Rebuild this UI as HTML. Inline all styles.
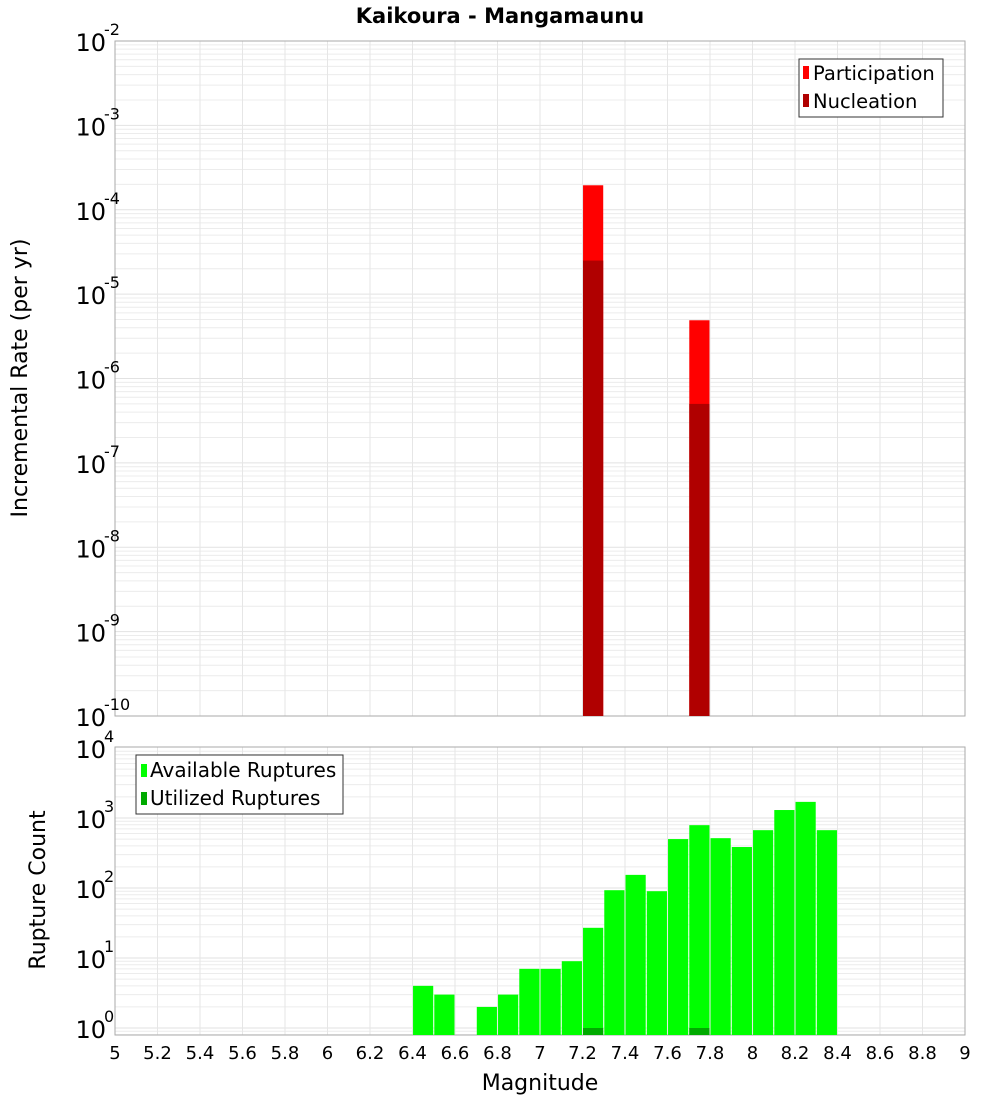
<!DOCTYPE html>
<html><head><meta charset="utf-8"><style>
body{margin:0;background:#fff;font-family:"DejaVu Sans","Liberation Sans",sans-serif;}
svg text{font-family:"DejaVu Sans","Liberation Sans",sans-serif;}
</style></head><body>
<svg id="chart" width="1000" height="1100" xmlns="http://www.w3.org/2000/svg">
<text x="500" y="23" text-anchor="middle" font-size="21" font-weight="bold">Kaikoura - Mangamaunu</text>
<g id="topg"></g><g id="botg"></g>
<text transform="translate(27,378) rotate(-90)" text-anchor="middle" font-size="22">Incremental Rate (per yr)</text>
<text transform="translate(45,890) rotate(-90)" text-anchor="middle" font-size="22">Rupture Count</text>
<text x="540" y="1090" text-anchor="middle" font-size="22">Magnitude</text>
<g>
<rect x="799" y="59" width="144" height="58" fill="#fff" stroke="#333"/>
<rect x="803" y="66" width="6" height="13" fill="#ff0000"/>
<text x="813" y="80" font-size="19.5">Participation</text>
<rect x="803" y="94" width="6" height="13" fill="#b00000"/>
<text x="813" y="108" font-size="19.5">Nucleation</text>
</g>
<g>
<rect x="136" y="755" width="207" height="59" fill="#fff" stroke="#333"/>
<rect x="141" y="764" width="6" height="13" fill="#00ff00"/>
<text x="150" y="777" font-size="20">Available Ruptures</text>
<rect x="141" y="792" width="6" height="13" fill="#00aa00"/>
<text x="150" y="805" font-size="20">Utilized Ruptures</text>
</g>
</svg>
<script>
const partMags=[7.25,7.75];
const partRates=[1.95e-4,4.9e-6];
const nuclMags=[7.25,7.75];
const nuclRates=[2.5e-5,5.0e-7];
const countMags=[6.45,6.55,6.75,6.85,6.95,7.05,7.15,7.25,7.35,7.45,7.55,7.65,7.75,7.85,7.95,8.05,8.15,8.25,8.35];
const availCounts=[4,3,2,3,7,7,9,27,93,154,90,500,790,515,385,670,1300,1700,670];
const usedMags=[7.25,7.75];
const usedCounts=[1,1];
const xTicks=[5,5.2,5.4,5.6,5.8,6,6.2,6.4,6.6,6.8,7,7.2,7.4,7.6,7.8,8,8.2,8.4,8.6,8.8,9];
const topExps=[-2,-3,-4,-5,-6,-7,-8,-9,-10];
const botExps=[0,1,2,3,4];
const NS='http://www.w3.org/2000/svg';
const X0=115,X1=965;
const xs=m=>X0+(m-5)/4*(X1-X0);
const yTop=v=>716-84.375*(Math.log10(v)+10);
const yBot=v=>1028-70*Math.log10(v);
function mk(tag,attrs,parent){const e=document.createElementNS(NS,tag);for(const k in attrs)e.setAttribute(k,attrs[k]);parent.appendChild(e);return e;}
const topG=document.getElementById('topg'),botG=document.getElementById('botg');
function panel(g,y0,y1,yf,eMin,eMax,exps,name){
  for(let e=eMin;e<eMax;e++)for(let k=1;k<10;k++){const yy=yf(k*Math.pow(10,e));if(yy<y0||yy>y1)continue;
    const l=mk('line',{x1:X0,x2:X1,y1:yy,y2:yy,stroke:k==1?'#e2e2e2':'#ececec','stroke-width':1},g);
    
    }
  xTicks.forEach(t=>{const l=mk('line',{x1:xs(t),x2:xs(t),y1:y0,y2:y1,stroke:'#e6e6e6'},g);
    
    });
  const r=mk('rect',{x:X0,y:y0,width:X1-X0,height:y1-y0,fill:'none',stroke:'#aaa'},g);
  
  
  exps.forEach(e=>{const yy=yf(Math.pow(10,e));
    const t=mk('text',{x:106,y:yy+10,'text-anchor':'end','font-size':24},g);
    
    
    t.textContent='10';
    const s=mk('text',{x:104,y:yy-6,'font-size':16},g);
    
    
    s.textContent=String(e);});
}
panel(topG,41,716,yTop,-10,-2,topExps,'top');
panel(botG,747,1035,yBot,-1,4,botExps,'bottom');
const bw=xs(5.095)-xs(5);
partMags.forEach((m,i)=>{const yy=yTop(partRates[i]);const r=mk('rect',{x:xs(m)-bw/2,y:yy,width:bw,height:716-yy,fill:'#ff0000'},topG);
  
  });
nuclMags.forEach((m,i)=>{const yy=yTop(nuclRates[i]);const r=mk('rect',{x:xs(m)-bw/2,y:yy,width:bw,height:716-yy,fill:'#b00000'},topG);
  
  });
countMags.forEach((m,i)=>{const yy=yBot(availCounts[i]);const r=mk('rect',{x:xs(m)-bw/2,y:yy,width:bw,height:1035-yy,fill:'#00ff00'},botG);
  
  });
usedMags.forEach((m,i)=>{const yy=yBot(usedCounts[i]);const r=mk('rect',{x:xs(m)-bw/2,y:yy,width:bw,height:1035-yy,fill:'#00aa00'},botG);
  
  });
xTicks.forEach(t=>{const tx=mk('text',{x:xs(t),y:1059,'text-anchor':'middle','font-size':18},botG);
  
  
  tx.textContent=String(t);});
</script>
</body></html>
